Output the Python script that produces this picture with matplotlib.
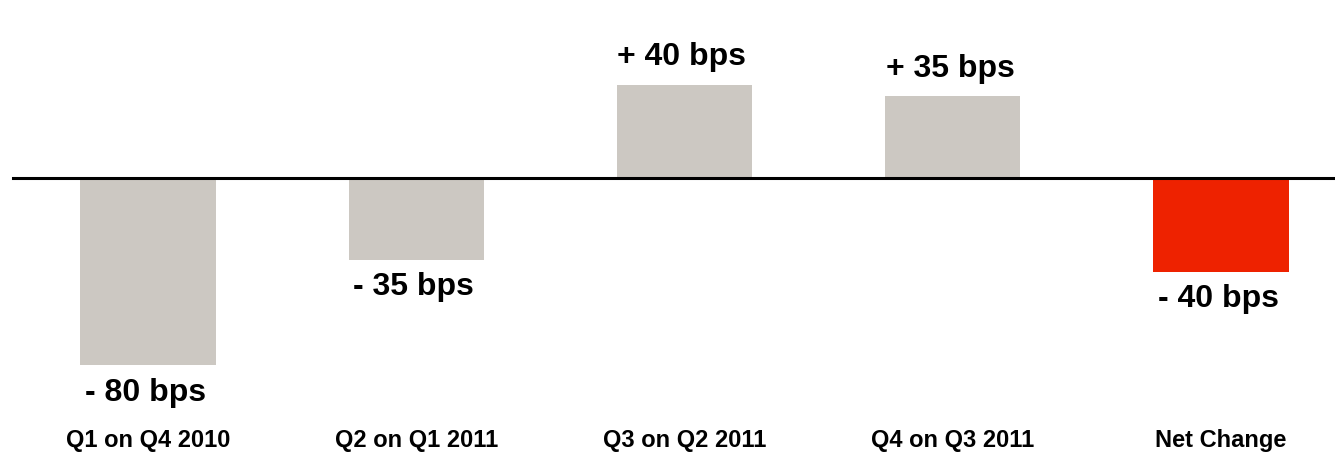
import matplotlib
matplotlib.use("Agg")
import matplotlib.pyplot as plt
import matplotlib.transforms as mtransforms

plt.rcParams['font.family'] = ['Liberation Sans', 'DejaVu Sans']

# quarter-on-quarter change, basis points
categories = ["Q1 on Q4 2010", "Q2 on Q1 2011", "Q3 on Q2 2011", "Q4 on Q3 2011", "Net Change"]
values = [-80, -35, 40, 35, -40]
value_labels = ["- 80 bps", "- 35 bps", "+ 40 bps", "+ 35 bps", "- 40 bps"]
colors = ["#CCC8C2", "#CCC8C2", "#CCC8C2", "#CCC8C2", "#EE2200"]

fig = plt.figure(figsize=(13.35, 4.55), dpi=100)
ax = fig.add_axes([0, 0, 1, 1])

x = list(range(len(categories)))
ax.bar(x, values, width=0.504, color=colors, zorder=2)
ax.axhline(0, xmin=13 / 1335, xmax=1334 / 1335, color="black", lw=2.2, zorder=3)

# value labels just past the end of each bar
for xi, v, lab in zip(x, values, value_labels):
    off = 9 if v > 0 else -9
    ax.annotate(lab, (xi, v), xytext=(-2, off), textcoords="offset points",
                ha="center", va="bottom" if v > 0 else "top",
                fontsize=23, fontweight="bold")

# category names along the bottom
trans = mtransforms.blended_transform_factory(ax.transData, ax.transAxes)
for xi, name in zip(x, categories):
    ax.text(xi, 15 / 455, name, transform=trans, ha="center", va="center",
            fontsize=17, fontweight="bold")

ax.set_xlim(-0.552, 4.425)
ax.set_ylim(-118.5, 76.15)
ax.axis("off")

fig.savefig("out.png", dpi=100)
